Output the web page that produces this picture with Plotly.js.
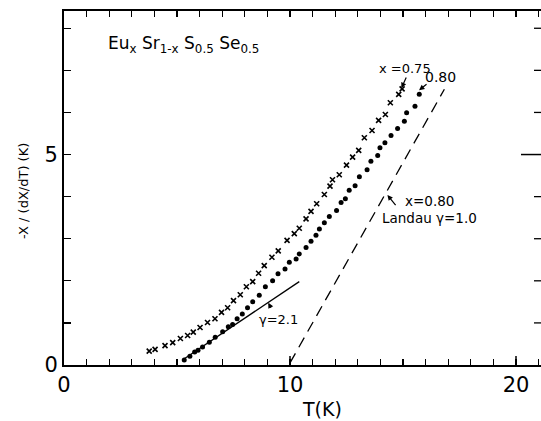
<!DOCTYPE html>
<html>
<head>
<meta charset="utf-8">
<script src="https://cdn.plot.ly/plotly-3.0.1.min.js"></script>
<style>
html,body{margin:0;padding:0;overflow:hidden;background:#fff;}
#chart{width:541px;height:421px;}
</style>
</head>
<body>
<div id="chart"></div>
<script>
// x = 0.75 (crosses)
var tempX075 = [3.77,4.03,4.47,4.81,5.15,5.47,5.72,6.02,6.35,6.68,6.97,7.24,7.50,7.80,8.07,8.35,8.61,8.86,9.20,9.48,9.87,10.19,10.41,10.71,10.93,11.18,11.52,11.77,11.88,12.18,12.50,12.77,13.04,13.29,13.63,13.92,14.22,14.44,14.81,14.96];
var valX075  = [0.33,0.37,0.46,0.53,0.63,0.70,0.78,0.89,1.01,1.10,1.25,1.36,1.53,1.67,1.86,1.98,2.18,2.36,2.56,2.71,2.96,3.12,3.25,3.47,3.65,3.83,4.05,4.25,4.40,4.52,4.75,4.94,5.10,5.40,5.57,5.81,5.95,6.23,6.43,6.56];
// x = 0.80 (dots)
var tempX080 = [5.32,5.57,5.78,5.93,6.13,6.43,6.69,7.02,7.27,7.46,7.66,7.89,8.12,8.35,8.64,8.91,9.23,9.47,9.78,9.97,10.27,10.41,10.71,10.93,11.15,11.30,11.52,11.74,12.06,12.26,12.45,12.62,12.88,13.07,13.41,13.58,13.88,13.98,14.20,14.47,14.76,15.06,15.16,15.53,15.72];
var valX080  = [0.12,0.21,0.31,0.35,0.43,0.54,0.66,0.79,0.91,0.96,1.10,1.21,1.36,1.50,1.66,1.86,2.00,2.17,2.28,2.44,2.52,2.64,2.79,2.94,3.08,3.23,3.38,3.53,3.67,3.86,3.95,4.15,4.26,4.47,4.64,4.84,4.98,5.16,5.28,5.45,5.62,5.79,5.99,6.15,6.43];
// power-law fit gamma = 2.1 (solid)
var fitGamma21T = [5.24, 10.41];
var fitGamma21V = [0.12, 1.98];
// Landau gamma = 1.0 (dashed)
var landauT = [10.0, 16.83];
var landauV = [0.05, 6.55];
// ticks (every unit, labels only at the majors)
var xTickVals = [0,1,2,3,4,5,6,7,8,9,10,11,12,13,14,15,16,17,18,19,20,21];
var xTickText = ['0','','','','','','','','','','10','','','','','','','','','','20',''];
var yTickVals = [0,1,2,3,4,5,6,7,8];
var yTickText = ['0','','','','','5','','',''];

var FONT = 'DejaVu Sans, sans-serif';
var PW = 477; // plot width in px

var traces = [
  {x: tempX075, y: valX075, mode: 'markers', type: 'scatter',
   marker: {symbol: 'x-thin', size: 5, color: '#000', line: {color: '#000', width: 1.6}}},
  {x: tempX080, y: valX080, mode: 'markers', type: 'scatter',
   marker: {symbol: 'circle', size: 5, color: '#000'}},
  {x: fitGamma21T, y: fitGamma21V, mode: 'lines', type: 'scatter',
   line: {color: '#000', width: 1.3}},
  {x: landauT, y: landauV, mode: 'lines', type: 'scatter',
   line: {color: '#000', width: 1.3, dash: '11px,7px'}}
];

function txt(x, y, t, size, anchor) {
  return {x: x, y: y, xref: 'x', yref: 'y', text: t, showarrow: false,
          xanchor: anchor || 'center', yanchor: 'middle',
          font: {family: FONT, size: size, color: '#000'}};
}
function arr(x, y, ax, ay) {
  return {x: x, y: y, xref: 'x', yref: 'y', text: '', showarrow: true,
          ax: ax, ay: ay, arrowhead: 2, arrowsize: 0.9, arrowwidth: 1.2, arrowcolor: '#000'};
}

// right-hand inward ticks (the frame's right edge lies at the picture's edge)
var shapes = [];
yTickVals.forEach(function (v) {
  if (v === 0) return;
  var len = (v === 5) ? 20 : 7;
  shapes.push({type: 'line', xref: 'paper', yref: 'y', x0: 1 - len / PW, x1: 1, y0: v, y1: v,
               line: {color: '#000', width: (v === 5) ? 1.5 : 1.3}});
});
[10, 20].forEach(function (v) {
  shapes.push({type: 'line', xref: 'x', yref: 'paper', x0: v, x1: v, y0: 0, y1: 9 / 354,
               line: {color: '#000', width: 1.5}});
});

var layout = {
  width: 541, height: 421,
  margin: {l: 64, r: 0, t: 11, b: 56},
  paper_bgcolor: '#fff', plot_bgcolor: '#fff',
  showlegend: false,
  xaxis: {
    range: [0, PW / 22.6], showgrid: false, zeroline: false,
    showline: true, linewidth: 2, linecolor: '#000', mirror: 'ticks',
    ticks: 'inside', tickmode: 'array', tickvals: xTickVals, ticktext: xTickText,
    ticklen: 6, tickwidth: 1.3, tickcolor: '#000',
    tickfont: {family: FONT, size: 21, color: '#000'}
  },
  yaxis: {
    range: [0, 8.41], showgrid: false, zeroline: false,
    showline: true, linewidth: 2, linecolor: '#000', mirror: false,
    ticks: 'inside', tickmode: 'array', tickvals: yTickVals, ticktext: yTickText,
    ticklen: 7, tickwidth: 1.3, tickcolor: '#000',
    tickfont: {family: FONT, size: 21, color: '#000'}
  },
  shapes: shapes,
  annotations: [
    txt(1.85, 7.62, 'Eu<sub>x</sub> Sr<sub>1-x</sub> S<sub>0.5</sub> Se<sub>0.5</sub>', 17, 'left'),
    txt(15.09, 7.05, 'x =0.75', 13),
    txt(16.64, 6.84, '0.80', 14),
    arr(14.93, 6.58, 5.5, -12),
    arr(15.71, 6.53, 9, -7),
    txt(15.0, 3.89, 'x=0.80', 13.5, 'left'),
    txt(13.98, 3.50, 'Landau γ=1.0', 13.5, 'left'),
    arr(14.31, 4.04, 9.4, 11.7),
    txt(8.53, 1.07, 'γ=2.1', 13, 'left'),
    arr(9.04, 1.48, 3.4, 6.6),
    {x: (322 - 64) / PW, y: -0.124, xref: 'paper', yref: 'paper', text: 'T(K)', showarrow: false,
     xanchor: 'center', yanchor: 'middle', font: {family: FONT, size: 19, color: '#000'}},
    {x: (23 - 64) / PW, y: 0.4915, xref: 'paper', yref: 'paper', text: '-X / (dX/dT) (K)', showarrow: false,
     textangle: -90, xanchor: 'center', yanchor: 'middle', font: {family: FONT, size: 13, color: '#000'}}
  ]
};

Plotly.newPlot('chart', traces, layout, {displayModeBar: false, staticPlot: true});
</script>
</body>
</html>
